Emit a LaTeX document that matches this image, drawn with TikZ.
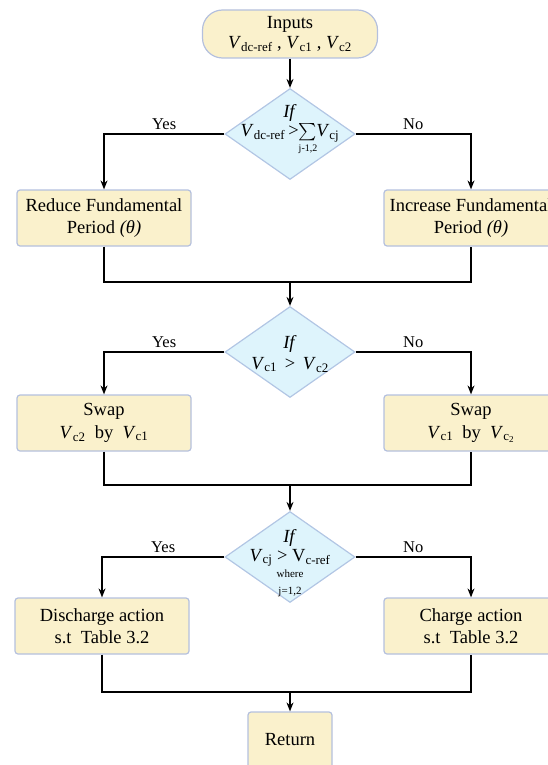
\documentclass[tikz,border=0pt]{standalone}
\usepackage{amsmath}
\usepackage{fontspec}
\setmainfont{Liberation Serif}
\usetikzlibrary{arrows.meta,shapes.geometric}

\definecolor{boxfill}{RGB}{250,241,204}
\definecolor{boxline}{RGB}{180,192,222}
\definecolor{decfill}{RGB}{222,244,252}
\definecolor{decline}{RGB}{178,198,228}
\newcommand{\Vsub}[1]{\textit{V}\textsubscript{#1}}

\begin{document}
\begin{tikzpicture}[x=1pt,y=1pt,>={Stealth[length=9pt,width=7pt]},line width=1.2pt,
  font=\fontsize{18.5pt}{22.5pt}\selectfont,
  terminal/.style={rectangle,rounded corners=20pt,draw=boxline,fill=boxfill,minimum width=175pt,minimum height=48pt,align=center,inner sep=1pt},
  block/.style={rectangle,rounded corners=3pt,draw=boxline,fill=boxfill,minimum width=174pt,minimum height=56pt,align=center,inner sep=1pt},
  decision/.style={diamond,draw=decline,fill=decfill,minimum width=130pt,minimum height=91pt,inner sep=0pt},
  condtext/.style={align=center,inner sep=0pt},
  answer/.style={above,font=\fontsize{16.5pt}{18pt}\selectfont}]

  \useasboundingbox (0,0) rectangle (547,-765);

  \node[terminal]	(Inputs) at (290,-34) {Inputs\\[-2pt] \Vsub{dc-ref} , \Vsub{c1} , \Vsub{c2}};
  \node[decision]	(IfSum) [below of=Inputs, node distance=100pt] {};
  \node[condtext]	(IfSumTxt) at ([yshift=4pt]IfSum.center) {\textit{If}\\[-4pt] \Vsub{dc-ref}\,>\(\sum\limits_{\mbox{\fontsize{10pt}{10pt}\selectfont j-1,2}}\)\kern-1pt\Vsub{cj}};
  \node[block]	(Reduce) [below of=IfSum, node distance=84pt, xshift=-186pt] {Reduce Fundamental\\ Period \textit{(θ)}};
  \node[block]	(Increase) [below of=IfSum, node distance=84pt, xshift=181pt] {Increase Fundamental\\ Period \textit{(θ)}};
  \coordinate[below of=IfSum, node distance=148pt]	(Join1);

  \node[decision]	(IfVc) [below of=IfSum, node distance=218pt] {};
  \node[condtext]	(IfVcTxt) at ([yshift=-2pt]IfVc.center) {\textit{If}\\[-2pt] \Vsub{c1} \,>\, \Vsub{c2}};
  \node[block]	(SwapA) [below of=IfVc, node distance=71pt, xshift=-186pt] {Swap\\ \Vsub{c2}\ \ by\ \ \Vsub{c1}};
  \node[block]	(SwapB) [below of=IfVc, node distance=71pt, xshift=181pt] {Swap\\ \Vsub{c1}\ \ by\ \ \textit{V}\textsubscript{c\textsubscript{2}}};
  \coordinate[below of=IfVc, node distance=133pt]	(Join2);

  \node[decision]	(IfRef) [below of=IfVc, node distance=205pt] {};
  \node[condtext]	(IfRefTxt) at ([yshift=-6pt]IfRef.center) {\textit{If}\\[-4pt] \Vsub{cj} > V\textsubscript{c-ref}\\[-6pt] {\fontsize{11pt}{13pt}\selectfont where}\\[-6pt] {\fontsize{11pt}{13pt}\selectfont j=1,2}};
  \node[block]	(Discharge) [below of=IfRef, node distance=69pt, xshift=-188pt] {Discharge action\\ s.t\ \ Table 3.2};
  \node[block]	(Charge) [below of=IfRef, node distance=69pt, xshift=181pt] {Charge action\\ s.t\ \ Table 3.2};
  \coordinate[below of=IfRef, node distance=135pt]	(Join3);
  \node[block, minimum width=84pt]	(Return) [below of=IfRef, node distance=183pt] {Return};

  \draw[->] (Inputs) -- (IfSum);
  \draw[->] (IfSum.west) -| node[answer, pos=0.25] {Yes} (Reduce.north);
  \draw[->] (IfSum.east) -| node[answer, pos=0.25] {No} (Increase.north);
  \draw (Reduce.south) |- (Join1) -| (Increase.south);
  \draw[->] (Join1) -- (IfVc);

  \draw[->] (IfVc.west) -| node[answer, pos=0.25] {Yes} (SwapA.north);
  \draw[->] (IfVc.east) -| node[answer, pos=0.25] {No} (SwapB.north);
  \draw (SwapA.south) |- (Join2) -| (SwapB.south);
  \draw[->] (Join2) -- (IfRef);

  \draw[->] (IfRef.west) -| node[answer, pos=0.25] {Yes} (Discharge.north);
  \draw[->] (IfRef.east) -| node[answer, pos=0.25] {No} (Charge.north);
  \draw (Discharge.south) |- (Join3) -| (Charge.south);
  \draw[->] (Join3) -- (Return);
\end{tikzpicture}
\end{document}
